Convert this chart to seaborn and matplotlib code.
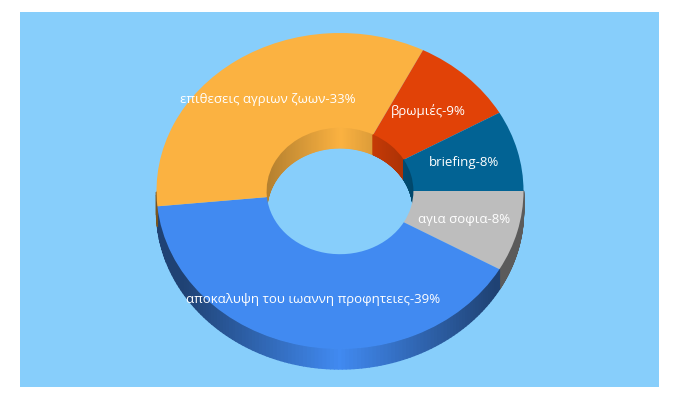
import numpy as np
import matplotlib
matplotlib.use('Agg')
import matplotlib.pyplot as plt
from matplotlib.collections import PolyCollection
from matplotlib.colors import to_rgb
import seaborn as sns

# slices in drawing order, clockwise from 3 o'clock
names = ['αγια σοφια', 'αποκαλυψη του ιωαννη προφητειες', 'επιθεσεις αγριων ζωων', 'βρωμιές', 'briefing']
shares = [8, 39, 33, 9, 8]
colors = ['#bdbdbd', '#418af1', '#fbb241', '#e14207', '#026394']

sns.set_theme(style='white')
plt.rcParams['font.family'] = ['Open Sans', 'DejaVu Sans']

# the picture is a tilted ring, so y units are squeezed
squash = 0.861
cx = 340
cy = (400 - 191) / squash
radius = 183.5
hole = 0.4
depth = 20 / squash

fig = plt.figure(figsize=(6.8, 4), dpi=100, facecolor='white')
ax = fig.add_axes([20 / 680, 13 / 400, 639 / 680, 375 / 400])

labels = [f'{n}-{s}%' for n, s in zip(names, shares)]
wedges, texts = ax.pie(shares, labels=labels, colors=sns.color_palette(colors), startangle=0,
                       counterclock=False, center=(cx, cy), radius=radius, labeldistance=0.7,
                       wedgeprops={'width': radius * (1 - hole), 'linewidth': 0, 'zorder': 3})
for t in texts:
    t.set_ha('center')
    t.set_color('white')
    t.set_fontsize(9.5)
    t.set_zorder(5)


def wall(w, r, upper, low, high, flat):
    # extruded side of a slice, split in thin quads to shade it by x
    a = np.radians(np.linspace(w.theta1, w.theta2, 120))
    a = a[np.sin(a) >= 0] if upper else a[np.sin(a) <= 0]
    if len(a) < 2:
        return
    x = cx + r * np.cos(a)
    y = cy + r * np.sin(a)
    quads = [[(x[i], y[i]), (x[i + 1], y[i + 1]), (x[i + 1], y[i + 1] - depth), (x[i], y[i] - depth)]
             for i in range(len(a) - 1)]
    mid = (x[:-1] + x[1:]) / 2
    shade = high - (high - low) * np.minimum(np.abs(mid - cx) / (r * flat), 1)
    base = np.array(to_rgb(w.get_facecolor()))
    cols = np.clip(np.outer(shade, base), 0, 1)
    ax.add_collection(PolyCollection(quads, facecolors=cols, edgecolors=cols, linewidths=1.0, zorder=2))


for w in wedges:
    wall(w, radius, False, 0.48, 1.0, 0.85)
    wall(w, radius * hole, True, 0.72, 1.0, 1.0)

ax.set_frame_on(True)
ax.set_facecolor('#87cefb')
sns.despine(ax=ax, left=True, bottom=True)
ax.set_aspect('auto')
ax.set_xlim(20, 659)
ax.set_ylim(13 / squash, 388 / squash)
ax.set_xticks([])
ax.set_yticks([])

fig.savefig('out.png', dpi=100)
